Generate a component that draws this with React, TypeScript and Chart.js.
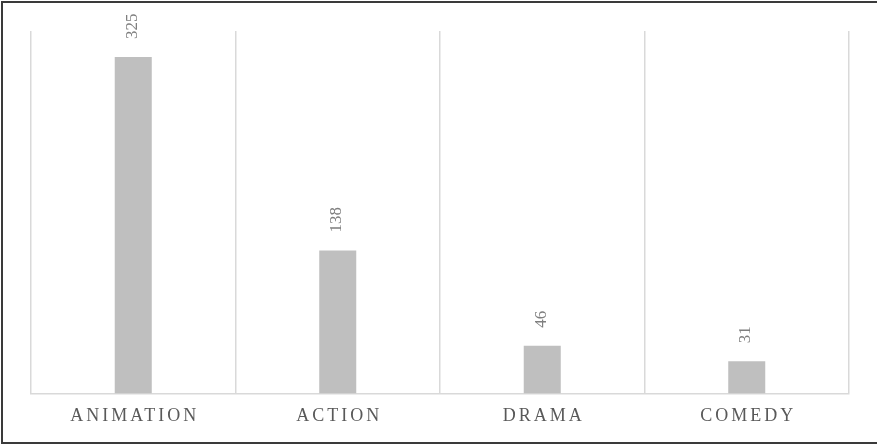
import React, { useEffect, useRef } from "react";
import { Chart, registerables } from "chart.js";

Chart.register(...registerables);

const categories = ["ANIMATION", "ACTION", "DRAMA", "COMEDY"];
const values = [325, 138, 46, 31];
const yMax = 350;

const labelPlugin = {
  id: "customLabels",
  beforeDraw(chart: any) {
    chart.ctx.letterSpacing = "3px";
  },
  afterDatasetsDraw(chart: any) {
    const ctx = chart.ctx as CanvasRenderingContext2D;
    const meta = chart.getDatasetMeta(0);
    ctx.save();
    ctx.letterSpacing = "0px";
    ctx.font = "17px 'Liberation Serif', serif";
    ctx.fillStyle = "#7f7f7f";
    ctx.textAlign = "left";
    ctx.textBaseline = "middle";
    meta.data.forEach((bar: any, i: number) => {
      ctx.save();
      ctx.translate(bar.x - 1, bar.y - 18);
      ctx.rotate(-Math.PI / 2);
      ctx.fillText(String(values[i]), 0, 0);
      ctx.restore();
    });
    ctx.restore();
  },
};

export default function App() {
  const ref = useRef<HTMLCanvasElement>(null);
  useEffect(() => {
    document.body.style.margin = "0";
    const chart = new Chart(ref.current!, {
      type: "bar",
      data: {
        labels: categories,
        datasets: [
          {
            data: values,
            backgroundColor: "#bfbfbf",
            borderWidth: 0,
            categoryPercentage: 1,
            barPercentage: 0.181,
          },
        ],
      },
      options: {
        animation: false,
        responsive: false,
        maintainAspectRatio: false,
        layout: { padding: { top: 31, left: 31, right: 28, bottom: 7 } },
        plugins: { legend: { display: false }, tooltip: { enabled: false } },
        scales: {
          x: {
            offset: true,
            grid: {
              offset: true,
              color: "#d9d9d9",
              lineWidth: 1.5,
              drawTicks: false,
            },
            border: { display: true, color: "#d9d9d9", width: 1.5 },
            ticks: {
              color: "#595959",
              font: { family: "'Liberation Serif', serif", size: 18 },
              padding: 12,
              maxRotation: 0,
              labelOffset: 1.5,
            },
          },
          y: {
            display: false,
            min: 0,
            max: yMax,
          },
        },
      },
      plugins: [labelPlugin],
    });
    return () => chart.destroy();
  }, []);
  return (
    <div
      style={{
        position: "fixed",
        left: 0,
        top: 0,
        width: 877,
        height: 446,
        overflow: "hidden",
        background: "#fff",
      }}
    >
      <div
        style={{
          position: "absolute",
          left: 1,
          top: 1,
          width: 1000,
          height: 439,
          border: "2px solid #3a3a3a",
        }}
      />
      <canvas
        ref={ref}
        width={877}
        height={446}
        style={{ position: "absolute", left: 0, top: 0, width: 877, height: 446 }}
      />
    </div>
  );
}
